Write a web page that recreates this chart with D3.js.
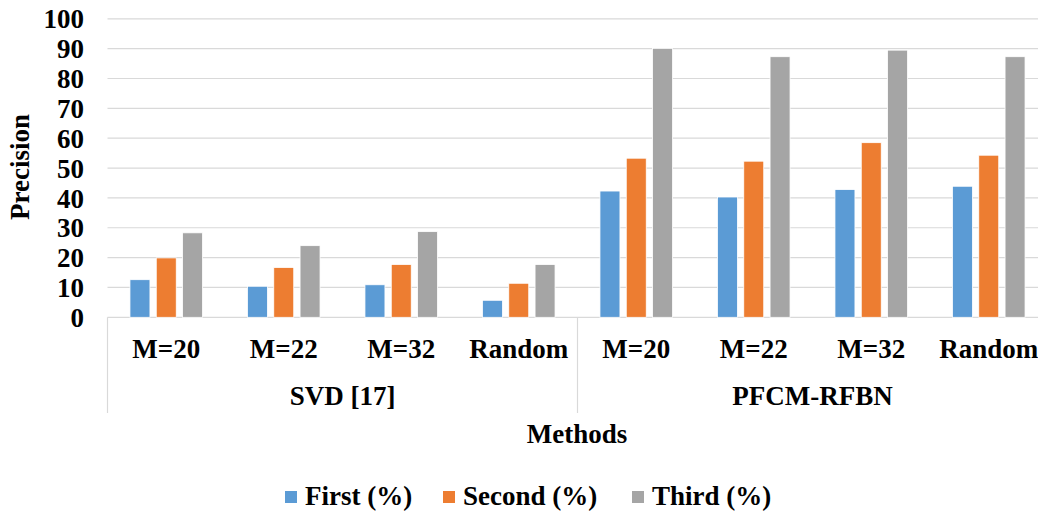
<!DOCTYPE html>
<html>
<head>
<meta charset="utf-8">
<script src="https://cdn.jsdelivr.net/npm/d3@7"></script>
<style>
  html, body { margin: 0; padding: 0; background: #fff; }
  svg { display: block; }
</style>
</head>
<body>
<svg id="chart" width="1038" height="515"></svg>
<script>
const groups = ["SVD [17]", "PFCM-RFBN"];
const categories = ["M=20", "M=22", "M=32", "Random"];
const seriesNames = ["First (%)", "Second (%)", "Third (%)"];
const colors = ["#5B9BD5", "#ED7D31", "#A5A5A5"];
const firstVals  = [12.6, 10.4, 10.9, 5.7, 42.3, 40.3, 42.8, 43.9];
const secondVals = [19.9, 16.7, 17.7, 11.4, 53.3, 52.3, 58.5, 54.3];
const thirdVals  = [28.3, 24.0, 28.7, 17.7, 90.1, 87.3, 89.5, 87.3];
const yTicks = [0, 10, 20, 30, 40, 50, 60, 70, 80, 90, 100];
const yTitle = "Precision";
const xTitle = "Methods";

const FONT = "Liberation Serif";
const seriesVals = [firstVals, secondVals, thirdVals];
const keys = [];
groups.forEach((g, gi) => categories.forEach((c, ci) => keys.push(gi + "|" + c)));

const svg = d3.select("#chart");
const pLeft = 107.5, pRight = 1047.5, pTop = 18.8, pBottom = 317.3;

const x0 = d3.scaleBand().domain(keys).range([pLeft, pRight]).paddingInner(0).paddingOuter(0);
const x1 = d3.scaleBand().domain(d3.range(seriesNames.length)).range([0, x0.bandwidth()])
  .paddingInner(0.24).paddingOuter(0.854);
const y = d3.scaleLinear().domain([0, 100]).range([pBottom, pTop]);

function styleText(sel) {
  return sel.attr("font-family", FONT).style("font-family", FONT)
    .attr("font-weight", "bold").style("font-weight", "bold")
    .attr("font-size", 27).style("font-size", "27px")
    .attr("fill", "#000");
}

// gridlines
svg.append("g").selectAll("line").data(yTicks).join("line")
  .attr("x1", pLeft).attr("x2", pRight)
  .attr("y1", d => y(d)).attr("y2", d => y(d))
  .attr("stroke", "#d9d9d9").attr("stroke-width", 1.2);

// y axis labels
const yAxis = d3.axisLeft(y).tickValues(yTicks).tickSize(0).tickPadding(0);
const ya = svg.append("g").attr("transform", `translate(84,0)`).call(yAxis);
ya.select(".domain").remove();
ya.attr("font-family", FONT);
styleText(ya.selectAll("text")).attr("dy", "0.34em");

// bars
const barData = [];
keys.forEach((k, i) => seriesVals.forEach((vals, si) => barData.push({ k, si, v: vals[i] })));
svg.append("g").selectAll("rect").data(barData).join("rect")
  .attr("x", d => x0(d.k) + x1(d.si))
  .attr("width", x1.bandwidth())
  .attr("y", d => y(d.v))
  .attr("height", d => y(0) - y(d.v))
  .attr("fill", d => colors[d.si])
  .attr("stroke", "#fff").attr("stroke-width", 0.8);

// category axis lines
const divX = [pLeft, x0(keys[categories.length]), pRight];
svg.append("g").selectAll("line").data(divX).join("line")
  .attr("x1", d => d).attr("x2", d => d)
  .attr("y1", pBottom).attr("y2", 413)
  .attr("stroke", "#d9d9d9").attr("stroke-width", 1.2);

// category labels
styleText(svg.append("g").selectAll("text").data(keys).join("text"))
  .attr("x", d => x0(d) + x0.bandwidth() / 2)
  .attr("y", 358)
  .attr("text-anchor", "middle")
  .text(d => d.split("|")[1]);

// group labels
styleText(svg.append("g").selectAll("text").data(groups).join("text"))
  .attr("x", (d, gi) => {
    const a = x0(keys[gi * categories.length]);
    const b = x0(keys[(gi + 1) * categories.length - 1]) + x0.bandwidth();
    return (a + b) / 2;
  })
  .attr("y", 405)
  .attr("text-anchor", "middle")
  .text(d => d);

// axis titles
styleText(svg.append("text")).attr("x", 577).attr("y", 443).attr("text-anchor", "middle").text(xTitle);
styleText(svg.append("text")).attr("transform", "translate(29,167) rotate(-90)")
  .attr("text-anchor", "middle").text(yTitle);

// legend
const legendX = [285, 443, 632];
const lg = svg.append("g").selectAll("g").data(seriesNames).join("g")
  .attr("transform", (d, i) => `translate(${legendX[i]},505)`);
lg.append("rect").attr("x", 0).attr("y", -14).attr("width", 12).attr("height", 12)
  .attr("fill", (d, i) => colors[i]);
styleText(lg.append("text")).attr("x", 20).attr("y", 0).text(d => d);
</script>
</body>
</html>
